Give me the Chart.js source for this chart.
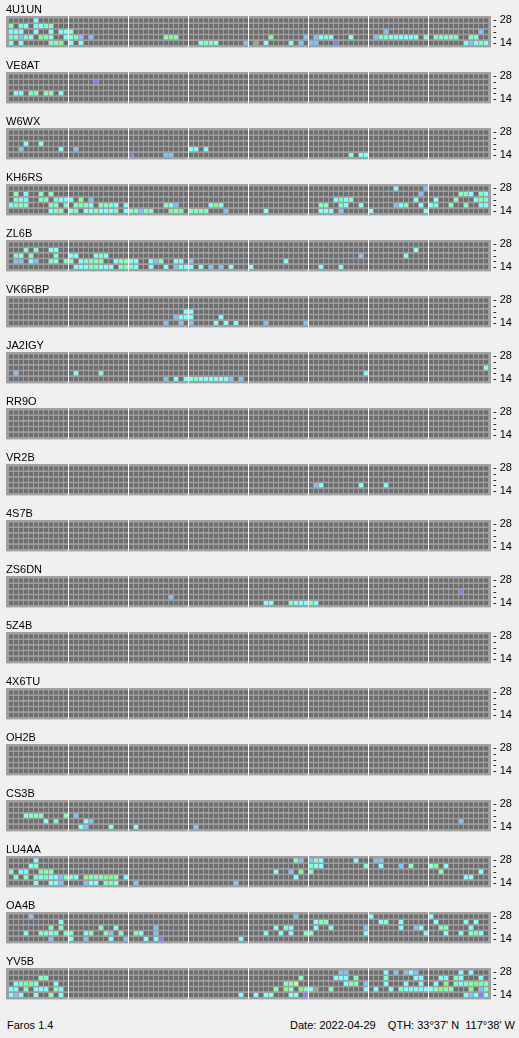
<!DOCTYPE html>
<html>
<head>
<meta charset="utf-8">
<script src="https://cdn.jsdelivr.net/npm/chart.js@4.4.1/dist/chart.umd.min.js"></script>
<style>
  html, body { margin: 0; padding: 0; background: #f0f0f0; }
  #wrap { position: relative; width: 519px; height: 1038px; overflow: hidden; }
  #wrap canvas { position: absolute; left: 0; }
  .foot { position: absolute; top: 1019px; font: 11px "Liberation Sans", Arial, sans-serif; color: #000; white-space: pre; }
</style>
</head>
<body>
<div id="wrap"></div>
<div class="foot" style="left:7px">Faros 1.4</div>
<div class="foot" style="right:4px">Date: 2022-04-29    QTH: 33°37' N  117°38' W</div>
<script>
// NCDXF beacons, one panel each
const stations = ['4U1UN', 'VE8AT', 'W6WX', 'KH6RS', 'ZL6B', 'VK6RBP', 'JA2IGY', 'RR9O', 'VR2B',
                  '4S7B', 'ZS6DN', '5Z4B', '4X6TU', 'OH2B', 'CS3B', 'LU4AA', 'OA4B', 'YV5B'];
const bands = [28, 24, 21, 18, 14];   // MHz, top row first
const slots = 96;                     // 15 min slots over the day
const levelColors = { c: '#80ffff', a: '#80ffc0', g: '#80ff80', b: '#80c0ff', p: '#8080ff', y: '#c0ff80', n: '#a0a0a0' };
const emptyColor = '#6e6e6e';

// heard slots per band (same order as bands): level letter + slot number
const spots4U1UN = [
  'c5',
  'a0 a2 c3 c5 c6 a7 a8',
  'c0 c1 c2 c5 c8 c10 c11 a12 b75 b94',
  'a0 a1 b2 a3 c4 g6 a7 c8 c11 c12 a13 b14 b16 a31 g32 a33 g52 b59 b61 c62 a63 c64 c68 b73 a74 a75 c76 c77 c78 c79 c80 c81 a83 a85 a86 a87 a88 a89 a92 c93',
  'c0 c2 a8 a9 g10 c12 c14 c38 a39 a40 c41 b47 n49 c51 c56 b58 b60 b61 p65 c91 b92 c93 a94 c95'
];
const spotsVE8AT = ['', 'p17', '', 'c1 c2 a4 a5 a7 a8 c10', ''];
const spotsW6WX = ['', '', 'c3 c6', 'b2 c10 b13 c36 c37 c39', 'p24 b31 b32 a68 c70 c71'];
const spotsKH6RS = [
  'c77 b83',
  'a1 c3 a6 a8 b82 a90 a91 c92 a94 c95',
  'a1 c2 c3 a6 a7 a9 c10 c11 c12 g14 b16 c65 a66 c67 a68 c81 c85 a89 c93 a94 a95',
  'c0 a1 a2 a3 a8 a9 a11 a13 a14 a15 c16 a18 a19 a20 c21 c23 a31 c32 b33 c40 g41 c42 a62 a63 a66 c67 c70 b77 c78 a79 c82 c84 a85 a88 a91 c94 c95',
  'c8 a9 a10 c12 a13 c15 c16 a17 c18 c19 c20 a21 c23 a24 a25 b26 a27 a28 g32 a33 g34 a36 a37 a38 a39 b43 c51 c62 c63 c64 b66 c72 c83'
];
const spotsZL6B = [
  '',
  'a3 a5 c8 c9 c81',
  'a1 c2 a4 a9 c12 c13 c17 a18 c19 b70 c79',
  'b1 b2 c4 b5 a8 c9 a11 a12 c14 a15 a16 a17 a18 c21 a22 a23 c24 c25 c28 b29 a30 c33 c34 b36 c55',
  'c13 c14 c15 a16 a17 c18 c19 c20 a22 a23 a24 c25 c28 c31 b33 c34 c35 c36 c38 b40 b42 c44 c48 c62 c66'
];
const spotsVK6RBP = ['', '', 'c35 c36', 'b33 c34 c35 c36 c42', 'b31 b34 b36 c41 c43 c45 b51 b59'];
const spotsJA2IGY = ['', '', 'c95', 'b1 c13 a18 c71', 'b31 c33 c35 c36 a37 c38 c39 c40 c41 c42 c43 b44 b46'];
const spotsRR9O = ['', '', '', '', ''];
const spotsVR2B = ['', '', '', 'b61 c62 c70 c75', ''];
const spots4S7B = ['', '', '', '', ''];
const spotsZS6DN = ['', '', 'p90', 'b32', 'c51 c52 a56 c57 c58 c59 a60 c61'];
const spots5Z4B = ['', '', '', '', ''];
const spots4X6TU = ['', '', '', '', ''];
const spotsOH2B = ['', '', '', '', ''];
const spotsCS3B = ['', '', 'c3 a4 a5 a6 a11 b13', 'c7 a9 c15 b16 b90', 'c14 b15 c20 c25 b37'];
const spotsLU4AA = [
  'c5 a57 b58 b60 a61 c62 c69 b73 b74',
  'c4 a5 a60 c61 c62 a71 c74 b78 a80 c84 g85 c87',
  'a0 c2 c3 g6 a7 a8 c53 b56 g58 a60 a86 c94',
  'a1 a3 a5 c6 a7 c8 c9 b10 a11 a12 c13 g15 a16 a17 a18 g19 g20 a21 c23 c57 c91 c92',
  'c5 c8 c9 b10 b15 c16 c17 a19 a20 c21 b25 b45'
];
const spotsOA4B = [
  'b4 b57 c72 c84',
  'c10 c61 a62 a63 c74 a75 c78 c85 c91 c93',
  'a8 a10 a18 c21 b29 c53 a55 c56 c61 c64 b71 c78 b81 c82 a86 a87 c92',
  'c3 a6 a7 c8 a9 a11 a12 c15 a16 a19 b20 a22 a25 c26 b29 c51 c54 c56 a59 a60 c71 c83 c87 c90 a92 a93 c94',
  'b8 c12 b15 c20 b23 c27 c29 p30 c46'
];
const spotsYV5B = [
  'b66 b67 c75 b77 b79 c80 b81 c90 c92',
  'a6 a7 a58 c65 c66 c67 a69 a75 c81 c82 c86 c87 a89 c90 c94',
  'c1 a2 a3 g4 c5 c9 a55 a56 y57 c67 a68 a69 b71 c75 c79 c82 c85 g87 a89 c90 a91 a92 g93 a94 a95',
  'c0 c1 a3 c5 c6 c7 a9 c10 a53 g55 a56 g58 a59 c60 n61 a64 c71 c73 c76 a78 c79 c80 c81 c82 c83 c84 a85 g86 a87 a88 g92 b94 a95',
  'c0 b1 c2 c5 a8 c10 c46 c49 c51 c52 c56 c57 p59 c91 b92 c93 p94 c95'
];
const spots = [spots4U1UN, spotsVE8AT, spotsW6WX, spotsKH6RS, spotsZL6B, spotsVK6RBP, spotsJA2IGY, spotsRR9O, spotsVR2B,
               spots4S7B, spotsZS6DN, spots5Z4B, spots4X6TU, spotsOH2B, spotsCS3B, spotsLU4AA, spotsOA4B, spotsYV5B];

const fontFamily = '"Liberation Sans", Arial, sans-serif';
const half = 5 / 14;   // half a cell height in row units
const wrap = document.getElementById('wrap');

// grey panel behind the cells
const panelBg = {
  id: 'panelBg',
  beforeDraw(chart) {
    const a = chart.chartArea;
    chart.ctx.save();
    chart.ctx.fillStyle = '#a0a0a0';
    chart.ctx.fillRect(a.left, a.top, a.right - a.left, a.bottom - a.top);
    chart.ctx.restore();
  }
};

stations.forEach(function(name, i) {
  const cv = document.createElement('canvas');
  cv.width = 519;
  cv.height = 56;
  cv.style.top = (i * 56) + 'px';
  wrap.appendChild(cv);

  const datasets = bands.map(function(band, r) {
    const lvl = new Array(slots).fill(null);
    spots[i][r].split(/\s+/).filter(Boolean).forEach(function(t) {
      lvl[parseInt(t.slice(1), 10)] = t[0];
    });
    const row = bands.length - 1 - r;
    return {
      label: band + ' MHz',
      data: lvl.map(function(l, j) { return { x: j, y: [row - half, row + half] }; }),
      backgroundColor: lvl.map(function(l) { return l ? levelColors[l] : emptyColor; }),
      borderWidth: 0,
      inflateAmount: 0,
      barThickness: 4,
      grouped: false
    };
  });

  new Chart(cv, {
    type: 'bar',
    data: { datasets: datasets },
    plugins: [panelBg],
    options: {
      responsive: false,
      animation: false,
      events: [],
      layout: { padding: { left: 6, right: 0, top: 0, bottom: 1 } },
      plugins: {
        legend: { display: false },
        tooltip: { enabled: false },
        title: {
          display: true,
          text: name,
          align: 'start',
          color: '#000',
          font: { family: fontFamily, size: 11, weight: 'normal', lineHeight: '13px' },
          padding: { top: 3, bottom: 0 }
        }
      },
      scales: {
        x: {
          type: 'linear',
          min: -1,
          max: slots,
          offset: false,
          border: { display: false },
          grid: { offset: false, color: '#ffffff', lineWidth: 1, drawTicks: false },
          ticks: { display: false },
          // white line every 3 hours
          afterBuildTicks: function(s) { s.ticks = [1, 2, 3, 4, 5, 6, 7].map(function(k) { return { value: k * 12 - 0.5 }; }); },
          afterFit: function(s) { s.height = 0; }
        },
        y: {
          position: 'right',
          min: -11 / 14,
          max: 67 / 14,
          border: { display: false },
          grid: { display: false, drawTicks: false, tickLength: 0 },
          afterBuildTicks: function(s) { s.ticks = [0, 1, 2, 3, 4].map(function(v) { return { value: v }; }); },
          afterFit: function(s) { s.width = 28; },
          ticks: {
            autoSkip: false,
            padding: 2,
            color: '#000',
            font: { family: fontFamily, size: 11 },
            callback: function(v) {
              const b = bands[bands.length - 1 - v];
              return (v === 0 || v === bands.length - 1) ? '- ' + b : '-';
            }
          }
        }
      }
    }
  });
});
</script>
</body>
</html>
